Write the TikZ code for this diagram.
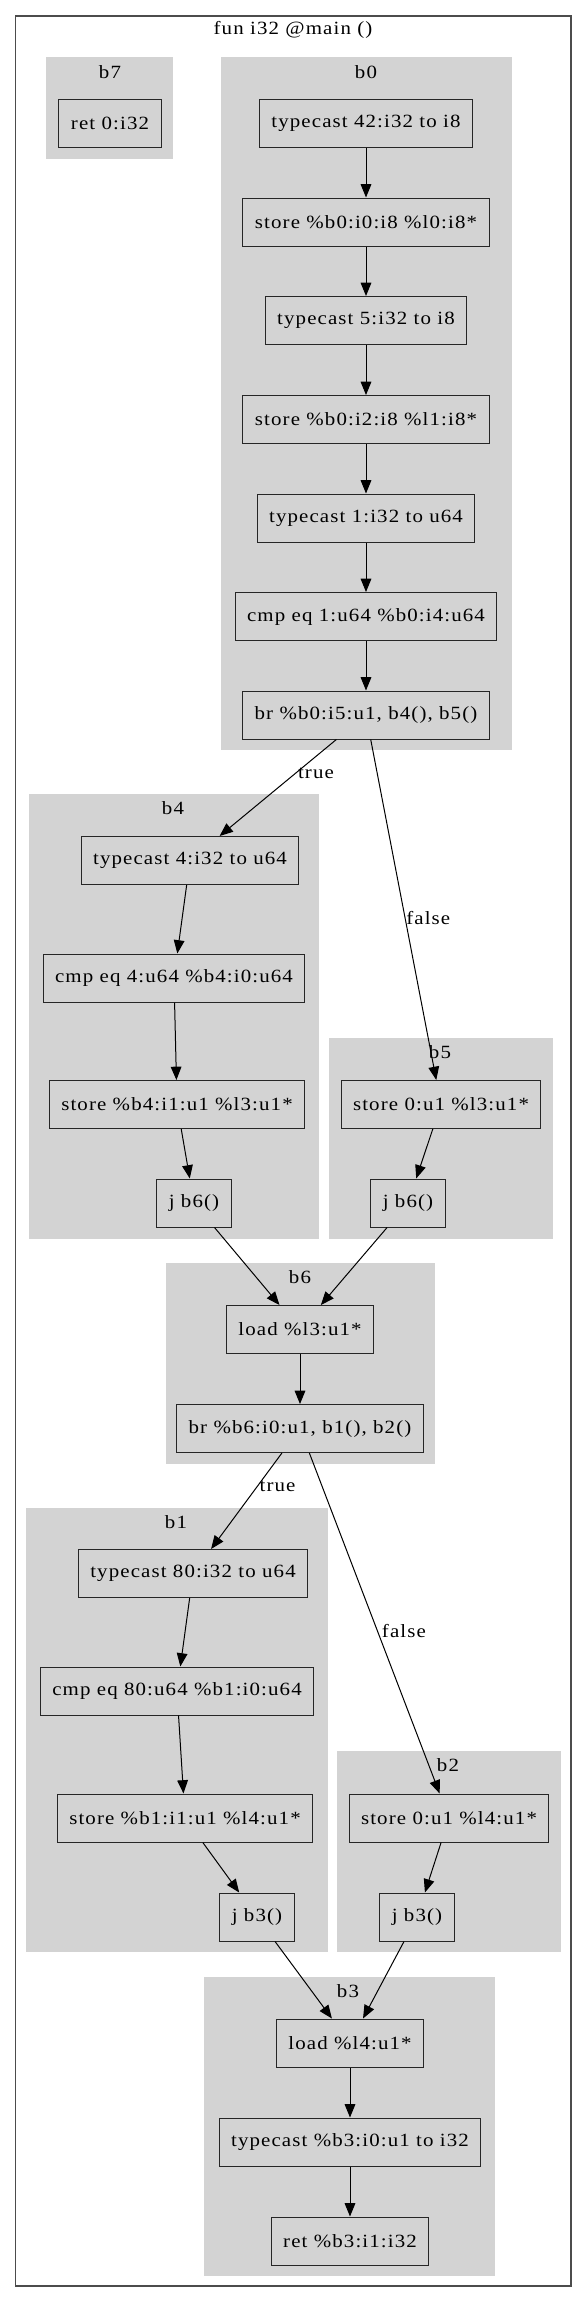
\documentclass[tikz,border=0pt]{standalone}
\usepackage{fontspec}
\setmainfont{Liberation Serif}[FakeStretch=1.12,LetterSpace=6]
\usetikzlibrary{arrows.meta}
\definecolor{blockgray}{RGB}{211,211,211}
\tikzset{
  instr/.style={draw=black!85, minimum height=36pt, inner xsep=9pt, font=\fontsize{14}{16}\selectfont},
  blocklabel/.style={inner sep=0pt, font=\fontsize{14}{16}\selectfont},
  edgelabel/.style={right, inner sep=1.5pt, font=\fontsize{14}{16}\selectfont}
}
\begin{document}
\begin{tikzpicture}[x=.75pt,y=-.75pt,line width=.75pt,>={Triangle[length=10pt,width=8pt]}]
\useasboundingbox (0,0) rectangle (584,2303);
% function frame
\draw[black!70,line width=1pt] (15.5,16) rectangle (571,2286);
\node[blocklabel] (fn) at (293,30) {fun i32 @main ()};
% basic blocks
\fill[blockgray] (46,57) rectangle (173,159);
\fill[blockgray] (221,57) rectangle (512,750);
\fill[blockgray] (29,794) rectangle (319,1239);
\fill[blockgray] (329,1038) rectangle (553,1239);
\fill[blockgray] (166,1263) rectangle (435,1464);
\fill[blockgray] (26,1508) rectangle (328,1952);
\fill[blockgray] (337,1751) rectangle (561,1952);
\fill[blockgray] (204,1977) rectangle (495,2276);
\node[blocklabel] (b7) at (110,72) {b7};
\node[blocklabel] (b0) at (366,72) {b0};
\node[blocklabel] (b4) at (173,808) {b4};
\node[blocklabel] (b5) at (440,1052) {b5};
\node[blocklabel] (b6) at (300,1277) {b6};
\node[blocklabel] (b1) at (176,1522) {b1};
\node[blocklabel] (b2) at (448,1765) {b2};
\node[blocklabel] (b3) at (348,1991) {b3};
% b7
\node[instr] (ret0) at (110,123) {ret 0:i32};
% b0
\node[instr] (tc42) at (366,123) {typecast 42:i32 to i8};
\node[instr] (st0) at (366,222) {store \%b0:i0:i8 \%l0:i8*};
\node[instr] (tc5) at (366,320.5) {typecast 5:i32 to i8};
\node[instr] (st1) at (366,419.5) {store \%b0:i2:i8 \%l1:i8*};
\node[instr] (tc1) at (366,518) {typecast 1:i32 to u64};
\node[instr] (cmp1) at (366,616.5) {cmp eq 1:u64 \%b0:i4:u64};
\node[instr] (br0) at (366,715) {br \%b0:i5:u1, b4(), b5()};
% b4, b5
\node[instr] (tc4) at (190,860.5) {typecast 4:i32 to u64};
\node[instr] (cmp4) at (174,978) {cmp eq 4:u64 \%b4:i0:u64};
\node[instr] (st4) at (177,1104.5) {store \%b4:i1:u1 \%l3:u1*};
\node[instr] (j4) at (194,1203) {j b6()};
\node[instr] (st5) at (441,1104.5) {store 0:u1 \%l3:u1*};
\node[instr] (j5) at (408,1203) {j b6()};
% b6
\node[instr] (ld3) at (300,1329.5) {load \%l3:u1*};
\node[instr] (br6) at (300,1428.5) {br \%b6:i0:u1, b1(), b2()};
% b1, b2
\node[instr] (tc80) at (193,1573.5) {typecast 80:i32 to u64};
\node[instr] (cmp80) at (177,1691) {cmp eq 80:u64 \%b1:i0:u64};
\node[instr] (st1b) at (185,1818) {store \%b1:i1:u1 \%l4:u1*};
\node[instr] (j1) at (257,1917) {j b3()};
\node[instr] (st2) at (449,1818) {store 0:u1 \%l4:u1*};
\node[instr] (j2) at (417,1917) {j b3()};
% b3
\node[instr] (ld4) at (350,2043) {load \%l4:u1*};
\node[instr] (tc3) at (350,2142) {typecast \%b3:i0:u1 to i32};
\node[instr] (ret3) at (350,2241) {ret \%b3:i1:i32};
% edges
\foreach \a/\b in {tc42/st0,st0/tc5,tc5/st1,st1/tc1,tc1/cmp1,cmp1/br0,
    tc4/cmp4,cmp4/st4,st4/j4,st5/j5,j4/ld3,j5/ld3,ld3/br6,
    tc80/cmp80,cmp80/st1b,st1b/j1,st2/j2,j1/ld4,j2/ld4,ld4/tc3,tc3/ret3}
  \draw[->] (\a) -- (\b);
\draw[->] (br0) -- node[edgelabel,pos=.35] (t0) {true} (tc4);
\draw[->] (br0) -- node[edgelabel,pos=.525,inner sep=.5pt] (f0) {false} (st5);
\draw[->] (br6) -- node[edgelabel,pos=.35] (t6) {true} (tc80);
\draw[->] (br6) -- node[edgelabel,pos=.523,inner sep=3pt] (f6) {false} (st2);
\end{tikzpicture}
\end{document}
